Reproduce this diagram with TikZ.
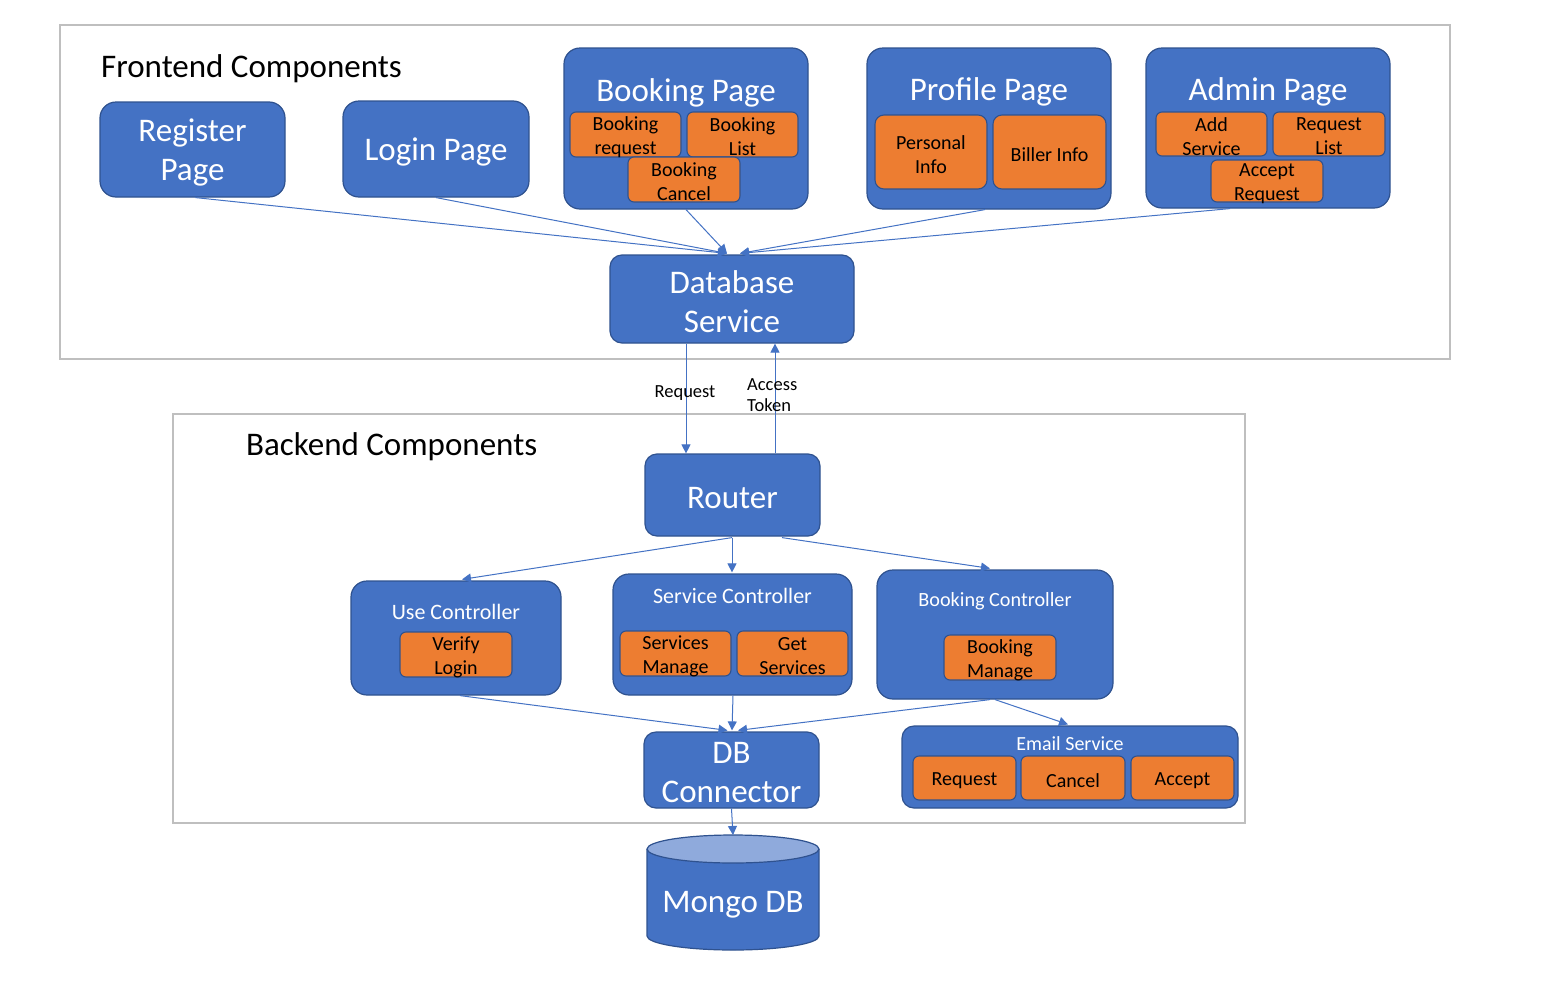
\documentclass[tikz,border=0pt]{standalone}
\usepackage{fontspec}
\setmainfont{Carlito}
\usetikzlibrary{arrows.meta,calc}
\definecolor{blueC}{HTML}{4472C4}
\definecolor{bordC}{HTML}{2F528F}
\definecolor{orangeC}{HTML}{ED7D31}
\definecolor{lightC}{HTML}{8FAADC}
\definecolor{frameC}{HTML}{BFBFBF}
\tikzset{
  bluebox/.style={draw=bordC, fill=blueC, line width=1.2pt, rounded corners=16pt, inner sep=0pt},
  btxt/.style={text=white, inner sep=0pt, align=center, yshift=-3pt, font=\fontsize{33}{39}\selectfont},
  orangebox/.style={draw=bordC, fill=orangeC, line width=1.1pt, rounded corners=6pt, inner sep=0pt},
  otxt/.style={text=black, inner sep=0pt, align=center, yshift=-2.5pt, font=\fontsize{20}{24}\selectfont},
  titletext/.style={text=white, inner sep=0pt, align=center},
  frame/.style={draw=frameC, line width=1.5pt},
  conn/.style={draw=blueC, line width=1pt, -{Triangle[length=9pt,width=9pt]}},
  lbl/.style={inner sep=0pt, align=left, font=\fontsize{18.5}{21}\selectfont},
}
\begin{document}
\begin{tikzpicture}[x=1pt,y=-1pt]
\useasboundingbox (0,0) rectangle (1566,988);
\fill[white] (0,0) rectangle (1566,988);
% frames
\draw[frame] (60,25) rectangle (1450,359);
\draw[frame] (173,414) rectangle (1245,823);
\node[anchor=west, inner sep=0pt, font=\fontsize{33}{38}\selectfont] (feT) at (101,69) {Frontend Components};
\node[anchor=west, inner sep=0pt, font=\fontsize{33}{38}\selectfont] (beT) at (246,447) {Backend Components};

% frontend boxes
\node[bluebox, minimum width=185pt, minimum height=95pt, label={[btxt]center:Register\\Page}] (reg) at (192.5,149.5) {};
\node[bluebox, minimum width=186pt, minimum height=96pt, label={[btxt]center:Login Page}] (login) at (436,149) {};

\node[bluebox, minimum width=244pt, minimum height=161pt] (book) at (686,128.5) {};
\node[titletext, font=\fontsize{33}{39}\selectfont] (bookT) at (686,92.5) {Booking Page};
\node[orangebox, minimum width=111pt, minimum height=45pt, label={[otxt]center:Booking\\request}] (breq) at (625.5,134.5) {};
\node[orangebox, minimum width=111pt, minimum height=45pt, label={[otxt]center:Booking\\List}] (blist) at (742.5,134.5) {};
\node[orangebox, minimum width=112pt, minimum height=45pt, label={[otxt]center:Booking\\Cancel}] (bcan) at (684,179.5) {};

\node[bluebox, minimum width=244pt, minimum height=161pt] (prof) at (989,128.5) {};
\node[titletext, font=\fontsize{33}{39}\selectfont] (profT) at (989,92) {Profile Page};
\node[orangebox, minimum width=112pt, minimum height=74pt, rounded corners=9pt, label={[otxt]center:Personal\\Info}] (pers) at (931,152) {};
\node[orangebox, minimum width=113pt, minimum height=74pt, rounded corners=9pt, label={[otxt]center:Biller Info}] (bill) at (1049.5,152) {};

\node[bluebox, minimum width=244pt, minimum height=160pt] (adm) at (1268,128) {};
\node[titletext, font=\fontsize{33}{39}\selectfont] (admT) at (1268,92) {Admin Page};
\node[orangebox, minimum width=111pt, minimum height=44pt, label={[otxt]center:Add\\Service}] (adds) at (1211.5,134) {};
\node[orangebox, minimum width=112pt, minimum height=44pt, label={[otxt]center:Request\\List}] (reql) at (1329,134) {};
\node[orangebox, minimum width=112pt, minimum height=42pt, label={[otxt]center:Accept\\Request}] (accr) at (1267,181) {};

\node[bluebox, minimum width=244pt, minimum height=88pt, rounded corners=12pt, label={[btxt]center:Database\\Service}] (dbs) at (732,299) {};

% frontend connectors
\coordinate (dbL) at ($(dbs.north)+(-5,-1)$);
\coordinate (dbR) at ($(dbs.north)+(8,-1)$);
\draw[conn] ($(reg.south)+(3,0)$) -- (dbL);
\draw[conn] (login.south) -- (dbL);
\draw[conn] (book.south) -- (dbL);
\draw[conn] ($(prof.south)+(-4,0)$) -- (dbR);
\draw[conn] ($(adm.south)+(-38,0)$) -- (dbR);

% backend boxes
\node[bluebox, minimum width=175pt, minimum height=82pt, rounded corners=12pt, label={[btxt]center:Router}] (router) at (732.5,495) {};

\node[bluebox, minimum width=210pt, minimum height=114pt] (usec) at (456,638) {};
\node[titletext, font=\fontsize{22}{25}\selectfont] (usecT) at (456,612) {Use Controller};
\node[orangebox, minimum width=112pt, minimum height=45pt, label={[otxt]center:Verify\\Login}] (verify) at (456,654.5) {};

\node[bluebox, minimum width=239pt, minimum height=121pt] (servc) at (732.5,634.5) {};
\node[titletext, font=\fontsize{22}{25}\selectfont] (servcT) at (732.5,596) {Service Controller};
\node[orangebox, minimum width=111pt, minimum height=45pt, label={[otxt]center:Services\\Manage}] (sm) at (675.5,653.5) {};
\node[orangebox, minimum width=111pt, minimum height=45pt, label={[otxt]center:Get\\Services}] (gs) at (792.5,653.5) {};

\node[bluebox, minimum width=236pt, minimum height=129pt] (bookc) at (995,634.5) {};
\node[titletext, font=\fontsize{20.2}{24}\selectfont] (bookcT) at (995,601.5) {Booking Controller};
\node[orangebox, minimum width=112pt, minimum height=45pt, label={[otxt]center:Booking\\Manage}] (bm) at (1000,657.5) {};

\node[bluebox, minimum width=175pt, minimum height=76pt, rounded corners=12pt, label={[btxt]center:DB\\Connector}] (dbc) at (731.5,770) {};

\node[bluebox, minimum width=336pt, minimum height=82pt, rounded corners=12pt] (email) at (1070,767) {};
\node[titletext, font=\fontsize{20}{24}\selectfont] (emailT) at (1070,744) {Email Service};
\node[orangebox, minimum width=103pt, minimum height=44pt, label={[otxt]center:Request}] (er) at (964.5,778) {};
\node[orangebox, minimum width=104pt, minimum height=44pt, label={[otxt]center:Cancel}] (ec) at (1073,778) {};
\node[orangebox, minimum width=103pt, minimum height=44pt, label={[otxt]center:Accept}] (ea) at (1182.5,778) {};

% Mongo DB cylinder
\coordinate (mtop) at (733,849);
\fill[blueC] (647,849) -- (647,936) arc[start angle=180, end angle=0, x radius=86, y radius=14] -- (819,849) -- cycle;
\draw[bordC, line width=1.2pt] (647,849) -- (647,936) arc[start angle=180, end angle=0, x radius=86, y radius=14] -- (819,849);
\draw[bordC, line width=1.2pt, fill=lightC] (mtop) ellipse[x radius=86, y radius=14];
\node[titletext, font=\fontsize{33}{39}\selectfont] (mongo) at (733,904.5) {Mongo DB};
\coordinate (mongoN) at (733,835);

% request / token
\draw[conn] ($(dbs.south)+(-46,0)$) -- ($(router.north)+(-46.5,0)$);
\draw[conn] ($(router.north)+(42.5,0)$) -- ($(dbs.south)+(43,0)$);
\node[lbl] (reqL) at (685,393) {Request};
\node[lbl, anchor=west] (tokL) at (747,395) {Access\\Token};

% backend connectors
\draw[conn] ($(router.south)+(-0.5,1)$) -- ($(usec.north)+(6,-1)$);
\draw[conn] ($(router.south)+(-0.5,1)$) -- ($(servc.north)+(-0.5,-1)$);
\draw[conn] ($(router.south)+(49.5,1)$) -- ($(bookc.north)+(-5,-1)$);
\draw[conn] ($(usec.south)+(4,0)$) -- ($(dbc.north)+(-4,-1)$);
\draw[conn] ($(servc.south)+(0.5,0)$) -- ($(dbc.north)+(0.5,-1)$);
\draw[conn] ($(bookc.south)+(-5,0)$) -- ($(dbc.north)+(6.5,-1)$);
\draw[conn] ($(bookc.south)+(0,0)$) -- ($(email.north)+(-2,-1)$);
\draw[conn] (dbc.south) -- (mongoN);
\end{tikzpicture}
\end{document}
